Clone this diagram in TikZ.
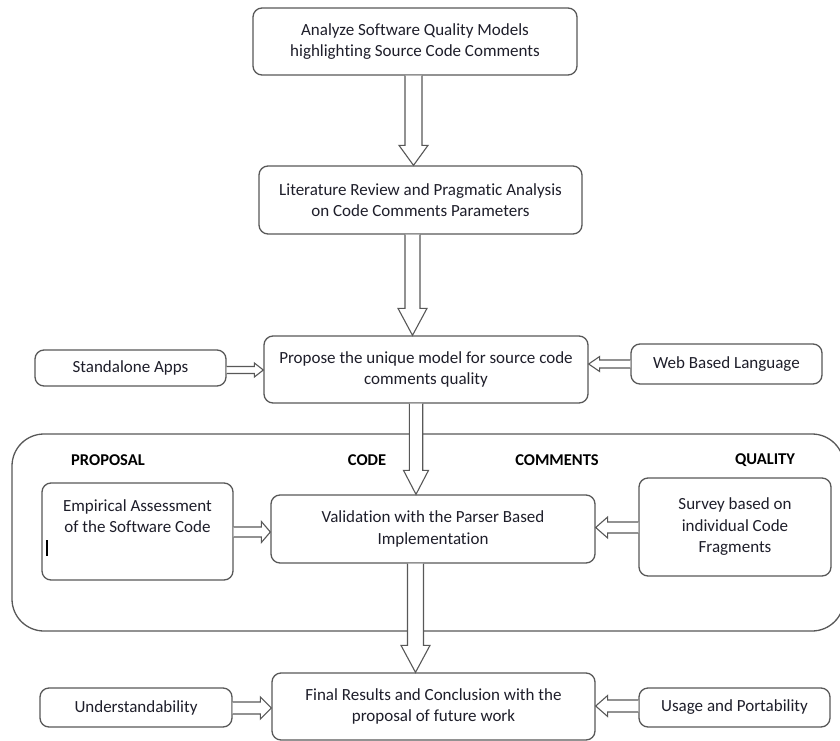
\documentclass[tikz,border=0pt]{standalone}
\usepackage{fontspec}
\setmainfont[Ligatures={NoCommon}]{Carlito}
\usetikzlibrary{calc}
\definecolor{ln}{HTML}{585858}
\definecolor{tx}{HTML}{1E1E2A}
\tikzset{
 box/.style={draw=ln, line width=1.3pt, rounded corners=9pt, fill=white, inner sep=0pt, align=center, text=tx, font=\fontsize{17}{21.5}\selectfont},
 txt/.style={inner sep=0pt, align=center, text=tx, font=\fontsize{17}{21.5}\selectfont},
 arr/.style={draw=ln, line width=1.1pt, fill=white, line join=miter},
 lbl/.style={inner sep=0pt, font=\fontsize{16.5}{20}\selectfont\bfseries, text=black},
 grpbox/.style={draw=ln, line width=1.3pt, rounded corners=32pt, inner sep=0pt},
}
% vertical arrow: from, to, x, shaft half width, head half width, head length
\newcommand{\vArr}[6]{\draw[arr] let \p1=(#1.south), \p2=(#2.north) in
 (#3pt-#4pt,\y1) -- (#3pt-#4pt,\y2+#6pt) -- (#3pt-#5pt,\y2+#6pt) -- (#3pt,\y2)
 -- (#3pt+#5pt,\y2+#6pt) -- (#3pt+#4pt,\y2+#6pt) -- (#3pt+#4pt,\y1);}
% right-pointing arrow: from, to, y(px), shaft half, head half, head length
\newcommand{\rArr}[6]{\draw[arr] let \p1=(#1.east), \p2=(#2.west) in
 (\x1,#4pt-#3pt) -- (\x2-#6pt,#4pt-#3pt) -- (\x2-#6pt,#5pt-#3pt) -- (\x2,-#3pt)
 -- (\x2-#6pt,-#3pt-#5pt) -- (\x2-#6pt,-#3pt-#4pt) -- (\x1,-#3pt-#4pt);}
% left-pointing arrow: from, to, y(px), shaft half, head half, head length
\newcommand{\lArr}[6]{\draw[arr] let \p1=(#1.west), \p2=(#2.east) in
 (\x1,#4pt-#3pt) -- (\x2+#6pt,#4pt-#3pt) -- (\x2+#6pt,#5pt-#3pt) -- (\x2,-#3pt)
 -- (\x2+#6pt,-#3pt-#5pt) -- (\x2+#6pt,-#3pt-#4pt) -- (\x1,-#3pt-#4pt);}
\begin{document}
\begin{tikzpicture}[x=1pt,y=-1pt]
\useasboundingbox (0,0) rectangle (840,741);
\clip (0,0) rectangle (840,741);
\fill[white] (0,0) rectangle (840,741);

% group frame
\node[grpbox, minimum width=832pt, minimum height=197pt] (grp) at (428,532.5) {};
\node[lbl] (lp) at (108,460) {PROPOSAL};
\node[lbl] (lc) at (367,460) {CODE};
\node[lbl] (lm) at (557,460) {COMMENTS};
\node[lbl] (lq) at (765,460) {QUALITY};

% boxes
\node[box, minimum width=324pt, minimum height=67pt] (b1) at (415,41.5) {Analyze Software Quality Models\\highlighting Source Code Comments};
\node[box, minimum width=323pt, minimum height=68pt] (b2) at (420.5,200) {Literature Review and Pragmatic Analysis\\on Code Comments Parameters};
\node[box, minimum width=324pt, minimum height=67pt] (b3) at (426,369.5) {Propose the unique model for source code\\comments quality};
\node[box, minimum width=191pt, minimum height=36pt] (sa) at (130.5,368) {Standalone Apps};
\node[box, minimum width=191pt, minimum height=40pt] (wb) at (726.5,364) {Web Based Language};
\node[box, minimum width=191pt, minimum height=97pt] (emp) at (137.5,531.5) {};
\node[txt] (emptx) at (137.5,516) {Empirical Assessment\\of the Software Code};
\node[box, minimum width=324pt, minimum height=68pt] (val) at (433,529) {Validation with the Parser Based\\Implementation};
\node[box, minimum width=192pt, minimum height=98pt] (sur) at (735,527) {Survey based on\\individual Code\\Fragments};
\node[box, minimum width=323pt, minimum height=67pt] (fin) at (433.5,706.5) {Final Results and Conclusion with the\\proposal of future work};
\node[box, minimum width=192pt, minimum height=39pt] (und) at (136,707.5) {Understandability};
\node[box, minimum width=191pt, minimum height=39pt] (usg) at (734.5,707.5) {Usage and Portability};

% cursor mark
\draw[line width=2pt, black] (47,540) -- (47,556);

% vertical arrows
\vArr{b1}{b2}{413.5}{8.5}{14.5}{20}
\vArr{b2}{b3}{412.5}{7.5}{14.5}{27}
\vArr{b3}{val}{416}{6.7}{12.5}{24}
\vArr{val}{fin}{415.5}{8}{14.5}{27}

% horizontal arrows
\rArr{sa}{b3}{370}{3.5}{7}{9}
\lArr{wb}{b3}{364}{4}{7.5}{11}
\rArr{emp}{val}{532}{5}{10.5}{9}
\lArr{sur}{val}{527.5}{5.5}{10.5}{12}
\rArr{und}{fin}{708}{6}{11}{11}
\lArr{usg}{fin}{706}{6}{10.5}{12}
\end{tikzpicture}
\end{document}
